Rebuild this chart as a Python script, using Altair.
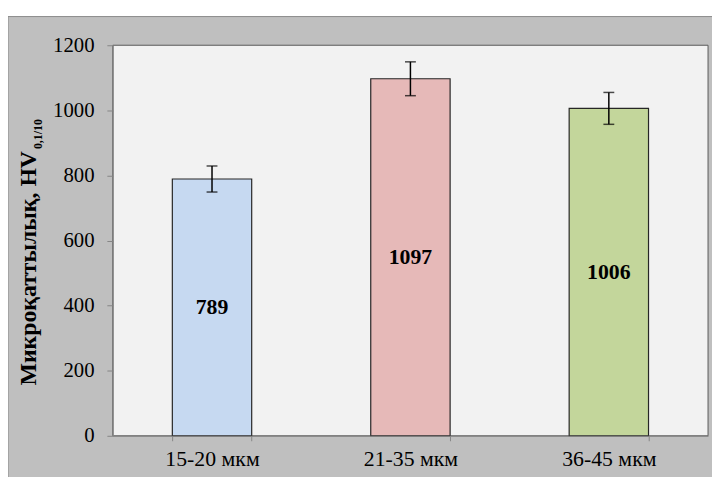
import altair as alt
import pandas as pd

categories = ["15-20 мкм", "21-35 мкм", "36-45 мкм"]
values = [789, 1097, 1006]
errors = [40, 52, 49]
bar_colors = ["#c6d9f1", "#e6b9b8", "#c3d69b"]
y_ticks = [0, 200, 400, 600, 800, 1000, 1200]
y_title_main = "Микроқаттылық, HV"
y_title_sub = "0,1/10"

df = pd.DataFrame({"cat": categories, "val": values, "err": errors})
df["lo"] = df["val"] - df["err"]
df["hi"] = df["val"] + df["err"]
df["mid"] = df["val"] / 2

W, H = 602, 395
FONT = "Liberation Serif"

xenc = alt.X(
    "cat:N",
    sort=categories,
    scale=alt.Scale(paddingInner=0.6, paddingOuter=0.3),
    axis=alt.Axis(
        title=None, tickBand="extent", labelAngle=0, labelFont=FONT,
        labelFontSize=22, labelColor="black", domainColor="#868686",
        tickColor="#868686", tickSize=5, labelPadding=8, zindex=2, grid=False,
    ),
)
yscale = alt.Scale(domain=[0, 1200], nice=False)

one = alt.Data(values=[{}])

outer = alt.Chart(one).mark_rect(fill="#bfbfbf", stroke="#8a8a8a", strokeWidth=1).encode(
    x=alt.value(-106), x2=alt.value(W + 10), y=alt.value(-29), y2=alt.value(H + 50)
)
inner = alt.Chart(one).mark_rect(fill="#f2f2f2", stroke="#595959", strokeWidth=1).encode(
    x=alt.value(0), x2=alt.value(W), y=alt.value(0), y2=alt.value(H)
)

bars = alt.Chart(df).mark_bar(stroke="#262626", strokeWidth=1.2).encode(
    x=xenc,
    y=alt.Y(
        "val:Q", scale=yscale,
        axis=alt.Axis(
            title=None, values=y_ticks, format="d", labelFont=FONT, labelFontSize=21,
            labelColor="black", domainColor="#868686", tickColor="#868686",
            tickSize=6, labelPadding=13, zindex=2, grid=False,
        ),
    ),
    color=alt.Color("cat:N", sort=categories,
                    scale=alt.Scale(domain=categories, range=bar_colors), legend=None),
)

rules = alt.Chart(df).mark_rule(color="black", strokeWidth=1.5).encode(
    x=alt.X("cat:N", sort=categories), y=alt.Y("lo:Q", scale=yscale), y2="hi:Q"
)
caps_lo = alt.Chart(df).mark_tick(color="black", size=11, thickness=1.5).encode(
    x=alt.X("cat:N", sort=categories), y=alt.Y("lo:Q", scale=yscale)
)
caps_hi = alt.Chart(df).mark_tick(color="black", size=11, thickness=1.5).encode(
    x=alt.X("cat:N", sort=categories), y=alt.Y("hi:Q", scale=yscale)
)

labels = alt.Chart(df).mark_text(font=FONT, fontSize=22, fontWeight="bold",
                                 color="black", baseline="middle").encode(
    x=alt.X("cat:N", sort=categories), y=alt.Y("mid:Q", scale=yscale), text="val:Q"
)

title_main = alt.Chart(one).mark_text(
    text=y_title_main, font=FONT, fontSize=24, fontWeight="bold", angle=270,
    align="right", baseline="alphabetic", color="black",
).encode(x=alt.value(-78), y=alt.value(107))
title_sub = alt.Chart(one).mark_text(
    text=y_title_sub, font=FONT, fontSize=12, fontWeight="bold", angle=270,
    align="left", baseline="alphabetic", color="black",
).encode(x=alt.value(-72), y=alt.value(105))

chart = alt.layer(
    outer, inner, bars, rules, caps_lo, caps_hi, labels, title_main, title_sub
).properties(
    width=W, height=H,
    autosize=alt.AutoSizeParams(type="none"),
    padding={"left": 106, "top": 35, "right": 4, "bottom": 39},
    background="white",
).configure_view(stroke=None)

chart.save("out.html", embed_options={"renderer": "svg", "actions": False})
